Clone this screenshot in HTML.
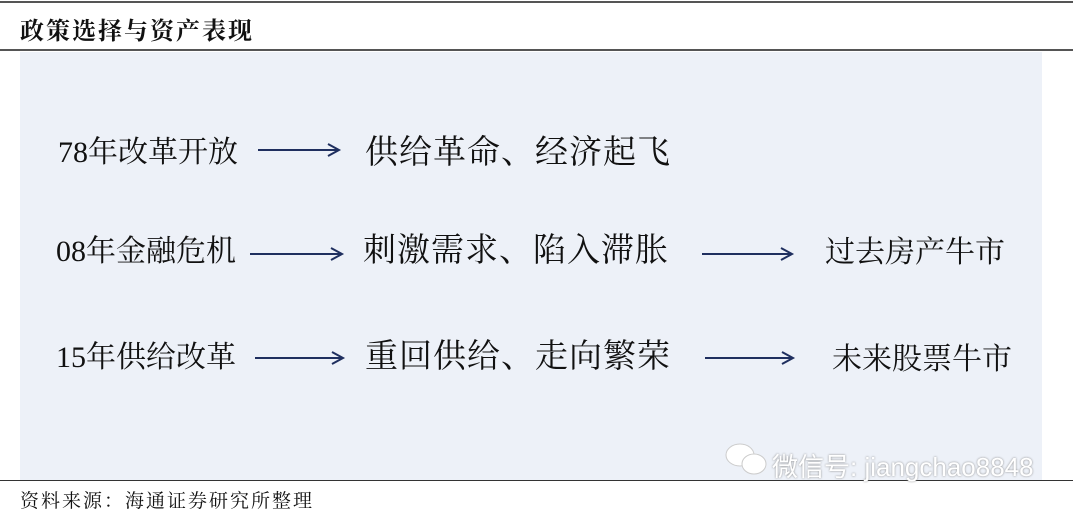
<!DOCTYPE html>
<html><head><meta charset="utf-8"><style>
body{margin:0;width:1080px;height:512px;background:#fff;position:relative;overflow:hidden;font-family:"Liberation Serif","Noto Serif CJK SC",serif;color:#111}
.a{position:absolute;white-space:nowrap}
.t{font-size:30px;line-height:30px}
.b{font-size:33px;line-height:33px}
</style></head><body>
<div class="a" style="left:0;top:1px;width:1073px;height:2px;background:#555"></div>
<div class="a" style="left:20px;top:11px;font-size:24px;font-weight:bold;letter-spacing:2px">政策选择与资产表现</div>
<div class="a" style="left:0;top:49px;width:1073px;height:2px;background:#555"></div>
<div class="a" style="left:20px;top:52px;width:1022px;height:428px;background:#edf1f8"></div>
<div class="a" style="left:0;top:480px;width:1073px;height:1px;background:#333"></div>
<div class="a" style="left:20px;top:486px;font-size:19px;letter-spacing:2px">资料来源：海通证券研究所整理</div>

<div class="a t" style="left:58px;top:138px">78年改革开放</div>
<div class="a b" style="left:365px;top:137px;letter-spacing:1px">供给革命、经济起飞</div>

<div class="a t" style="left:56px;top:237px">08年金融危机</div>
<div class="a b" style="left:363px;top:235px;letter-spacing:1px">刺激需求、陷入滞胀</div>
<div class="a t" style="left:825px;top:238px">过去房产牛市</div>

<div class="a t" style="left:56px;top:343px">15年供给改革</div>
<div class="a b" style="left:365px;top:341px;letter-spacing:1px">重回供给、走向繁荣</div>
<div class="a t" style="left:832px;top:345px">未来股票牛市</div>

<svg class="a" style="left:0;top:0" width="1080" height="512">
<g stroke="#1f2f5f" stroke-width="2" fill="none">
<path d="M258 150H338M328 144L339 150L328 156"/>
<path d="M250 254H341M331 248L342 254L331 260"/>
<path d="M702 254H791M781 248L792 254L781 260"/>
<path d="M255 358H342M332 352L343 358L332 364"/>
<path d="M705 358H792M782 352L793 358L782 364"/>
</g>
<g fill="#fff" stroke="#ccc" stroke-width="1">
<ellipse cx="740" cy="455" rx="14" ry="11"/>
<ellipse cx="754" cy="464" rx="12" ry="10"/>
</g>
</svg>
<div class="a" style="left:772px;top:447px;font-family:'Liberation Sans','Noto Sans CJK SC',sans-serif;font-size:26px;color:#fff;text-shadow:0 0 2px #888">微信号: jiangchao8848</div>
</body></html>
